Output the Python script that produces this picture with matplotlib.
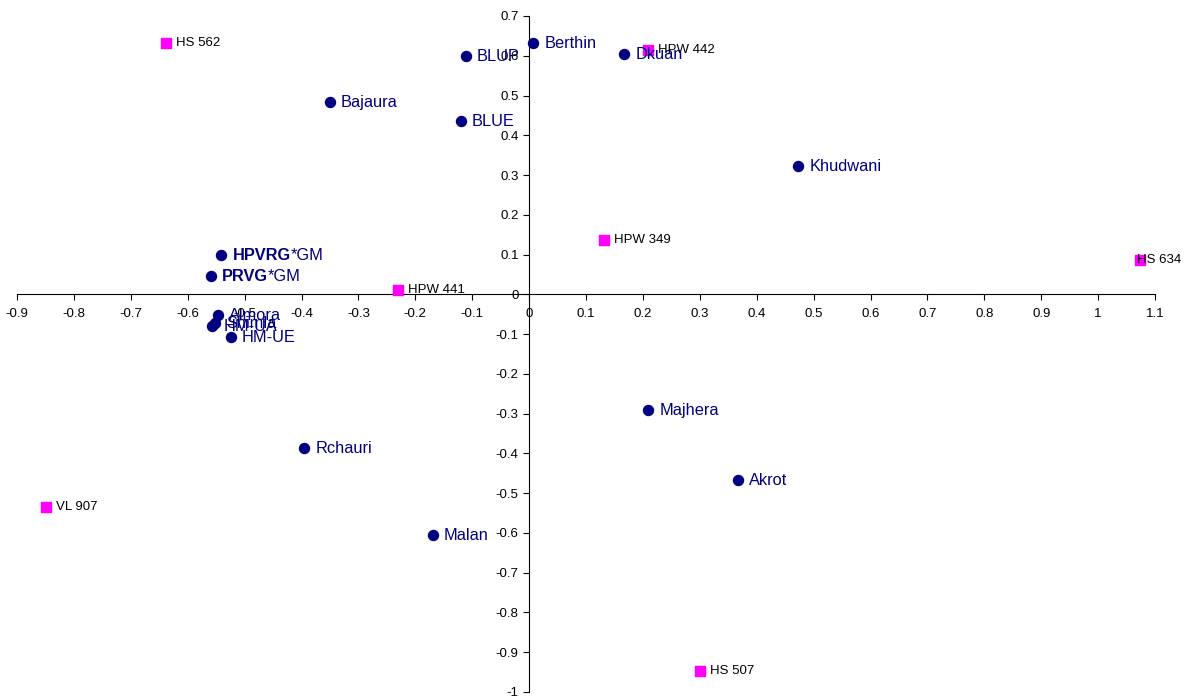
import matplotlib
matplotlib.use("Agg")
from matplotlib import pyplot as plt

plt.rcParams['font.family'] = ['Liberation Sans', 'DejaVu Sans']

# environments (blue dots)
env_names = ["BLUP", "Berthin", "Dkuan", "Bajaura", "BLUE", "Khudwani",
             "HPVRG*GM", "PRVG*GM", "Almora", "Shimla", "HM-UA", "HM-UE",
             "Rchauri", "Majhera", "Akrot", "Malan"]
env_x = [-0.111, 0.007, 0.167, -0.350, -0.120, 0.473,
         -0.541, -0.559, -0.547, -0.552, -0.557, -0.524,
         -0.395, 0.209, 0.367, -0.169]
env_y = [0.599, 0.631, 0.604, 0.483, 0.435, 0.322,
         0.098, 0.045, -0.053, -0.073, -0.080, -0.108,
         -0.387, -0.292, -0.468, -0.606]

# genotypes (pink squares)
gen_names = ["HS 562", "HPW 442", "HPW 349", "HS 634", "HPW 441", "VL 907", "HS 507"]
gen_x = [-0.638, 0.209, 0.132, 1.074, -0.230, -0.849, 0.301]
gen_y = [0.631, 0.614, 0.136, 0.086, 0.010, -0.536, -0.946]


def biplot():
    fig = plt.figure(figsize=(11.88, 7.0), dpi=100)
    ax = fig.add_axes([17 / 1188, 8 / 700, 1138 / 1188, 676 / 700])

    ax.scatter(env_x, env_y, marker="o", s=52, color="#000080", zorder=3)
    ax.scatter(gen_x, gen_y, marker="s", s=52, color="#FF00FF", zorder=3)

    for name, x, y in zip(env_names, env_x, env_y):
        if name.endswith("*GM"):
            t = ax.annotate(name[:-3], (x, y), xytext=(8, 0), textcoords="offset points",
                            fontsize=11.8, color="#000080", fontweight="bold", va="center")
            ax.annotate("*GM", xy=(1, 0.5), xycoords=t, fontsize=11.8, color="#000080",
                        va="center", ha="left")
        else:
            ax.annotate(name, (x, y), xytext=(8, 0), textcoords="offset points",
                        fontsize=11.8, color="#000080", va="center")

    for name, x, y in zip(gen_names, gen_x, gen_y):
        # the label at the right edge is pushed back onto its marker
        dx = -2 if name == "HS 634" else 7
        ax.annotate(name, (x, y), xytext=(dx, 0), textcoords="offset points",
                    fontsize=9.5, color="black", va="center", zorder=4)

    ax.set_xlim(-0.9, 1.1)
    ax.set_ylim(-1, 0.7)
    ax.set_xticks([round(-0.9 + 0.1 * i, 1) for i in range(21)])
    ax.set_yticks([round(-1 + 0.1 * i, 1) for i in range(18)])
    ax.set_xticklabels(["0" if abs(v) < 1e-9 else ("%g" % v) for v in ax.get_xticks()])
    ax.set_yticklabels(["0" if abs(v) < 1e-9 else ("%g" % v) for v in ax.get_yticks()])

    ax.spines["left"].set_position(("data", 0))
    ax.spines["bottom"].set_position(("data", 0))
    ax.spines["top"].set_visible(False)
    ax.spines["right"].set_visible(False)
    ax.tick_params(direction="out", length=4, labelsize=9.5)
    ax.tick_params(axis="x", pad=6)

    fig.savefig("out.png", dpi=100)


if __name__ == '__main__':
    biplot()
